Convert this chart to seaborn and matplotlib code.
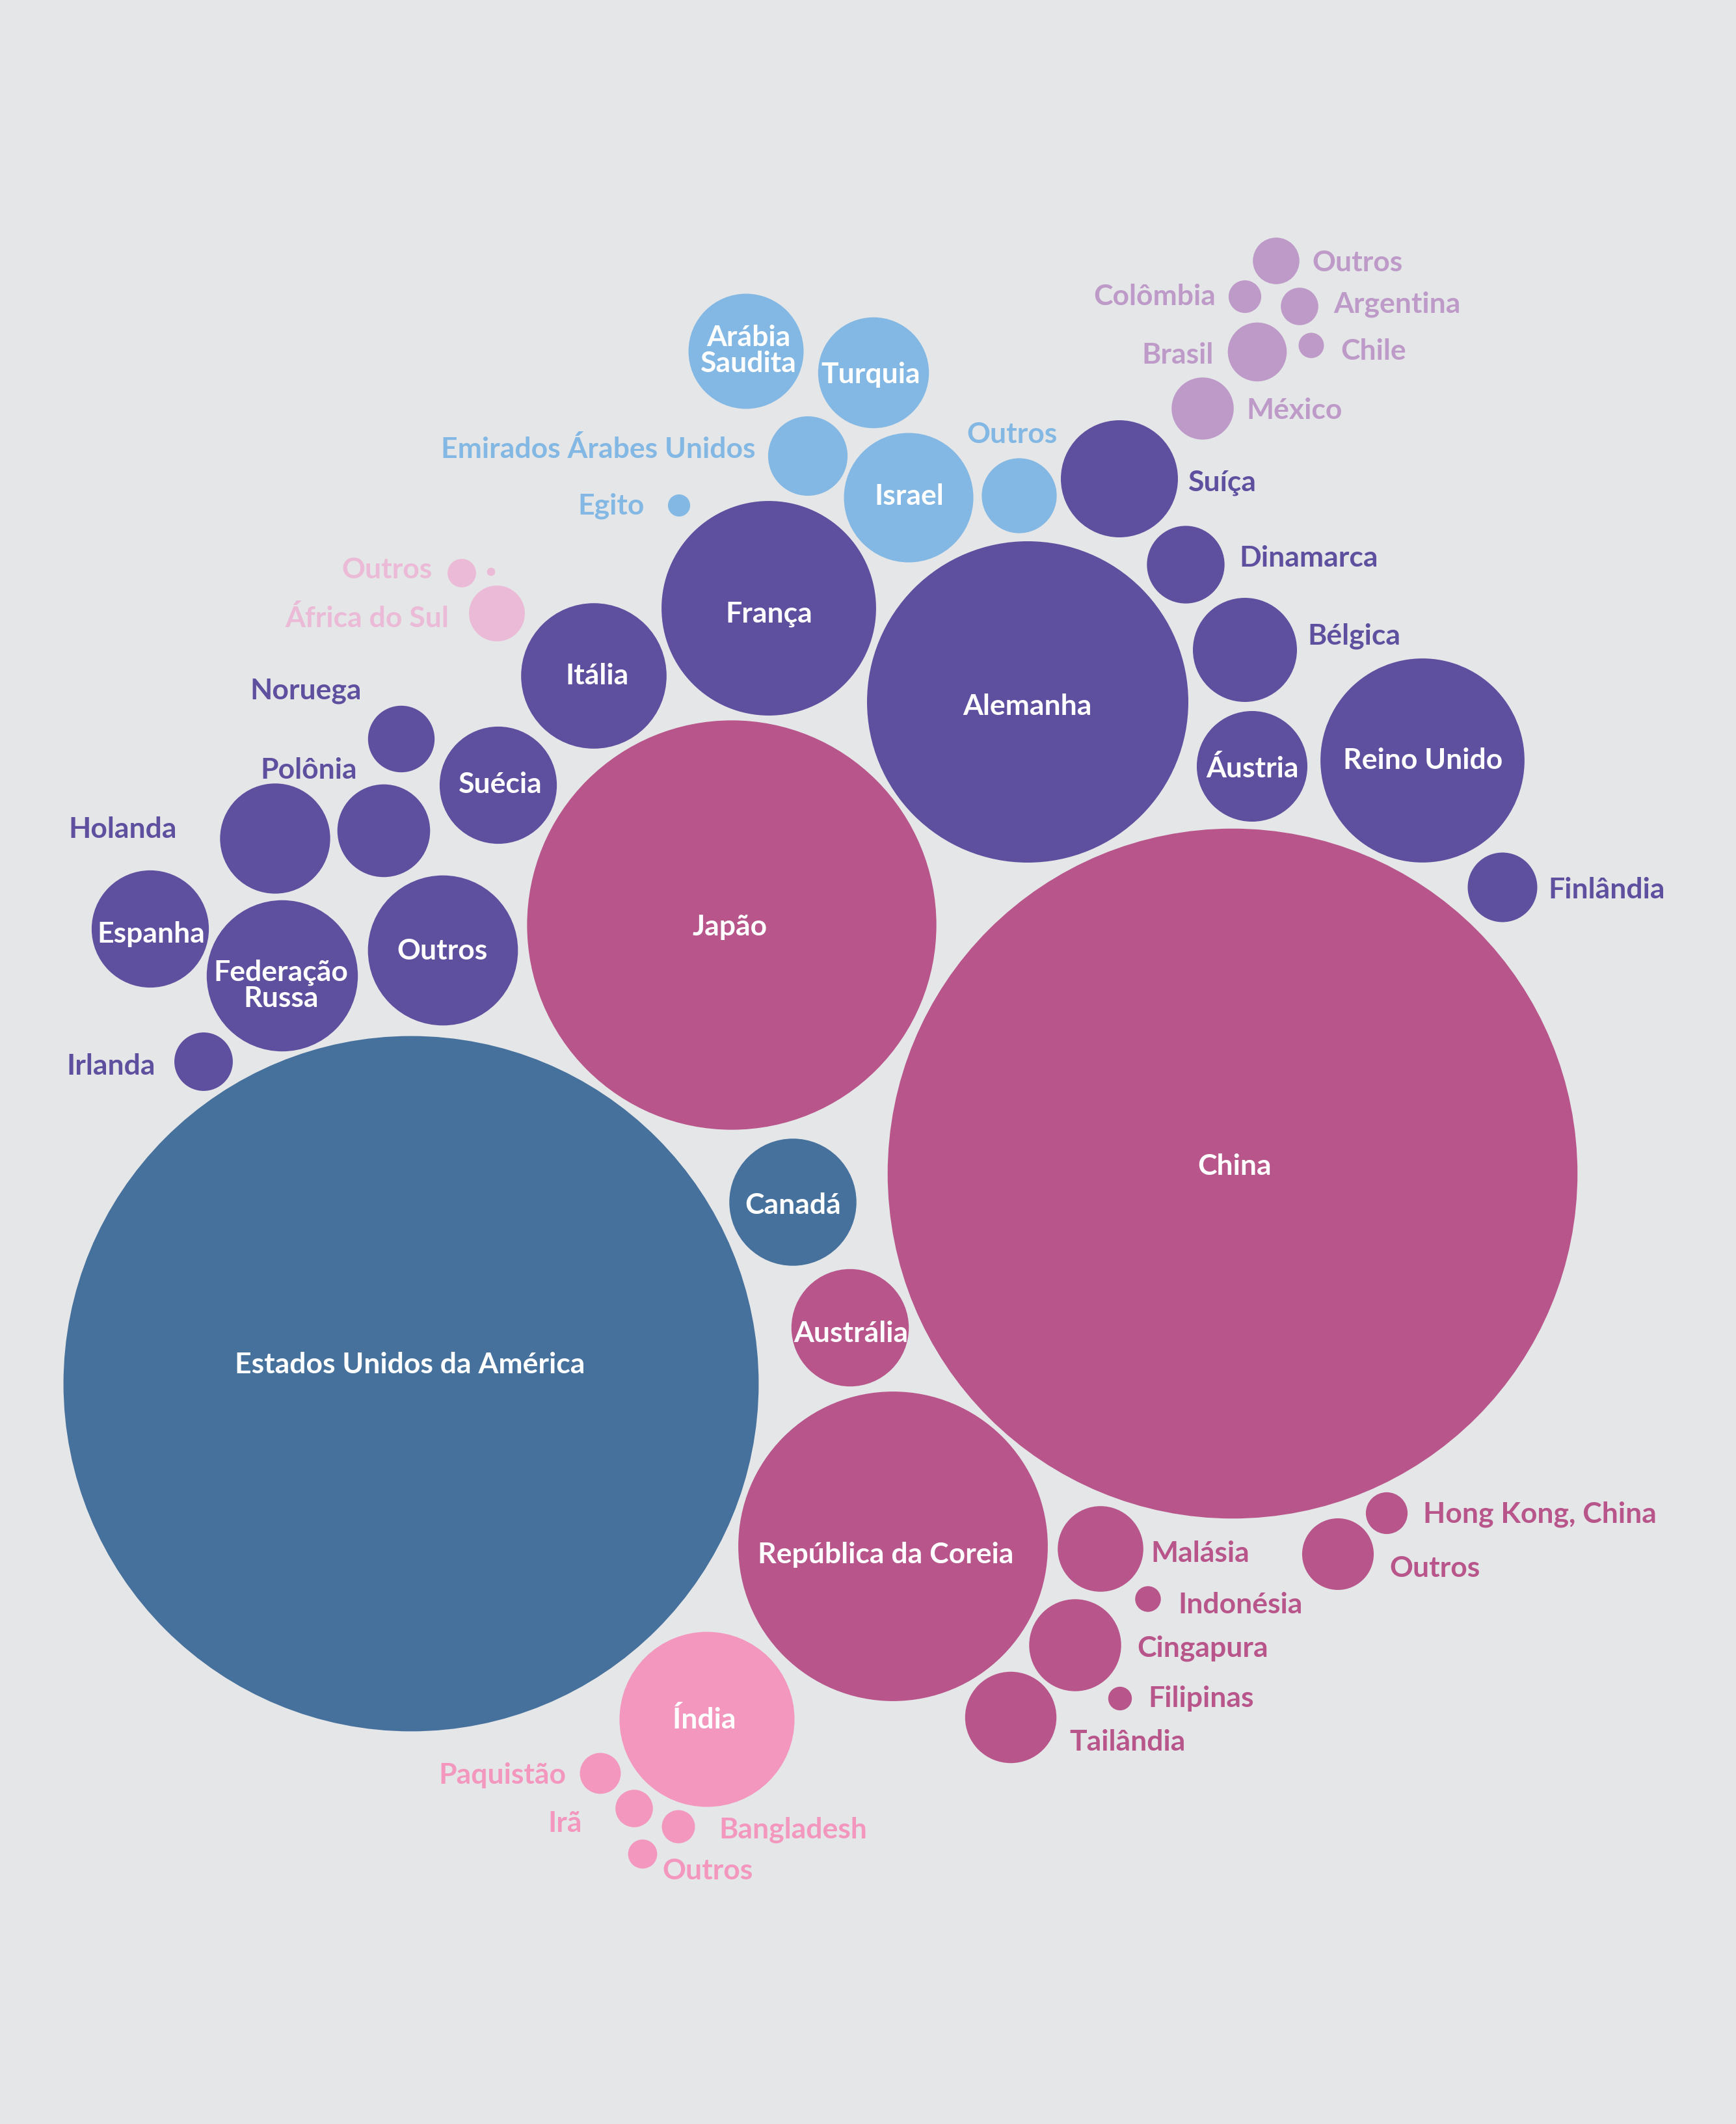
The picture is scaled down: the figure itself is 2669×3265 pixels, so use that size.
import pandas as pd
import numpy as np
import matplotlib.pyplot as plt
import seaborn as sns

# Dados: países, região, valor (área do círculo) e posição no arranjo
paises = [
    'Estados Unidos da América', 'China', 'Japão', 'Alemanha', 'República da Coreia',
    'França', 'Reino Unido', 'Índia', 'Outros', 'Federação Russa', 'Itália',
    'Israel', 'Canadá', 'Espanha', 'Suécia', 'Austrália', 'Suíça',
    'Arábia Saudita', 'Turquia', 'Áustria', 'Holanda', 'Bélgica', 'Polônia',
    'Cingapura', 'Tailândia', 'Malásia', 'Emirados Árabes Unidos', 'Dinamarca',
    'Outros', 'Outros', 'Finlândia', 'Noruega', 'México', 'Brasil', 'Irlanda',
    'África do Sul', 'Outros', 'Hong Kong, China', 'Paquistão', 'Argentina', 'Irã',
    'Bangladesh', 'Colômbia', 'Outros', 'Outros', 'Indonésia', 'Chile',
    'Filipinas', 'Egito', '',
]
regioes = [
    'AN', 'AP', 'AP', 'EU', 'AP',
    'EU', 'EU', 'AS', 'EU', 'EU', 'EU',
    'OM', 'AN', 'EU', 'EU', 'AP', 'EU',
    'OM', 'OM', 'EU', 'EU', 'EU', 'EU',
    'AP', 'AP', 'AP', 'OM', 'EU',
    'OM', 'AP', 'EU', 'EU', 'AL', 'AL', 'EU',
    'AF', 'AL', 'AP', 'AS', 'AL', 'AS',
    'AS', 'AL', 'AS', 'AF', 'AP', 'AL',
    'AP', 'OM', 'AF',
]
valores = [
    2856, 2812, 990, 610, 566,
    272, 246, 181, 133, 135, 125,
    99, 95.5, 81.2, 81.2, 81.4, 81.0,
    78.3, 72.6, 72.3, 71.7, 64.0, 50.8,
    50.0, 49.3, 43.3, 37.3, 35.6,
    33.2, 30.3, 28.6, 26.2, 22.8, 20.5, 20.2,
    18.4, 12.8, 10.3, 9.9, 8.3, 8.3,
    6.5, 6.3, 5.0, 4.8, 3.9, 3.8,
    3.3, 2.9, 0.4,
]
pos_x = [
    632, 1895, 1125, 1580, 1373,
    1182, 2187, 1087, 681, 434, 913,
    1397, 1219, 231, 766, 1307, 1721,
    1147, 1343, 1925, 423, 1914, 590,
    1653, 1554, 1692, 1242, 1823,
    1567, 2057, 2310, 617, 1849, 1933, 313,
    764, 1962, 2132, 923, 1998, 975,
    1043, 1914, 988, 710, 1765, 2016,
    1722, 1044, 755,
]
pos_y = [
    2128, 1805, 1423, 1080, 2378,
    936, 1170, 2644, 1462, 1501, 1040,
    766, 1849, 1429, 1208, 2042, 737,
    541, 574, 1179, 1290, 1000, 1278,
    2530, 2641, 2382, 702, 869,
    763, 2390, 1365, 1137, 629, 542, 1633,
    944, 402, 2327, 2727, 472, 2781,
    2809, 457, 2851, 882, 2459, 532,
    2612, 778, 880,
]

# Rótulos: posição do texto (centro das maiúsculas), alinhamento, dentro/fora
rot_x = [
    630, 1898, 1122, 1579, 1362,
    1182, 2188, 1083, 680, 432, 918,
    1398, 1219, 232, 769, 1308, 1827,
    1151, 1339, 1925, 272, 2010, 549,
    1748, 1644, 1769, 1161, 1905,
    1556, 2136, 2380, 556, 1916, 1866, 239,
    690, 2017, 2188, 870, 2050, 895,
    1105, 1869, 1018, 665, 1811, 2061,
    1765, 991, 0,
]
rot_y = [
    2095, 1790, 1422, 1083, 2387,
    940, 1166, 2641, 1459, 1512, 1036,
    760, 1850, 1433, 1203, 2047, 739,
    536, 573, 1179, 1272, 975, 1181,
    2531, 2675, 2385, 688, 855,
    665, 2408, 1365, 1059, 628, 543, 1636,
    948, 401, 2325, 2726, 465, 2800,
    2810, 453, 2873, 873, 2464, 537,
    2608, 774, 0,
]
rot_ha = [
    'center', 'center', 'center', 'center', 'center',
    'center', 'center', 'center', 'center', 'center', 'center',
    'center', 'center', 'center', 'center', 'center', 'left',
    'center', 'center', 'center', 'right', 'left', 'right',
    'left', 'left', 'left', 'right', 'left',
    'center', 'left', 'left', 'right', 'left', 'right', 'right',
    'right', 'left', 'left', 'right', 'left', 'right',
    'left', 'right', 'left', 'right', 'left', 'left',
    'left', 'right', 'center',
]
rot_dentro = [
    True, True, True, True, True,
    True, True, True, True, True, True,
    True, True, True, True, True, False,
    True, True, True, False, False, False,
    False, False, False, False, False,
    False, False, False, False, False, False, False,
    False, False, False, False, False, False,
    False, False, False, False, False, False,
    False, False, False,
]
quebras = {'Federação Russa': ['Federação', 'Russa'],
           'Arábia Saudita': ['Arábia', 'Saudita']}

cores = {
    'AN': '#46719c',
    'AP': '#b8558b',
    'EU': '#5e4f9f',
    'OM': '#82b8e3',
    'AL': '#bd9ac8',
    'AS': '#f397be',
    'AF': '#ebbad6',
}

LARGURA, ALTURA, DPI = 2669, 3266, 100
PX_POR_RAIZ = 10.0  # raio em px = 10 * sqrt(valor)
FUNDO = '#e5e6e8'


def grafico_bolhas():
    df = pd.DataFrame({'pais': paises, 'regiao': regioes, 'valor': valores,
                       'x': pos_x, 'y': pos_y})

    sns.set_theme(style='white')
    plt.rcParams['font.family'] = ['Lato', 'DejaVu Sans']

    fig = plt.figure(figsize=(LARGURA / DPI, ALTURA / DPI), dpi=DPI)
    fig.patch.set_facecolor(FUNDO)
    ax = fig.add_axes([0, 0, 1, 1])
    ax.set_facecolor(FUNDO)

    # área do marcador (pt^2) proporcional ao valor
    pt_por_px = 72.0 / DPI
    vmax = df['valor'].max()
    smax = (2 * PX_POR_RAIZ * np.sqrt(vmax) * pt_por_px) ** 2
    sns.scatterplot(data=df, x='x', y='y', hue='regiao', palette=cores,
                    size='valor', sizes=(0, smax), size_norm=(0, vmax),
                    marker='o', linewidth=0, legend=False, ax=ax)

    ax.set_xlim(0, LARGURA)
    ax.set_ylim(ALTURA, 0)
    ax.axis('off')

    fs = 32
    cap = 16  # metade da altura das maiúsculas em px
    for i, nome in enumerate(paises):
        if not nome:
            continue
        cor = 'white' if rot_dentro[i] else cores[regioes[i]]
        linhas = quebras.get(nome, [nome])
        n = len(linhas)
        for j, linha in enumerate(linhas):
            yc = rot_y[i] + (j - (n - 1) / 2) * 40
            ax.text(rot_x[i], yc + cap, linha, ha=rot_ha[i], va='baseline',
                    fontsize=fs, fontweight='bold', color=cor)

    fig.savefig('out.png', dpi=DPI, facecolor=FUNDO)


if __name__ == '__main__':
    grafico_bolhas()
